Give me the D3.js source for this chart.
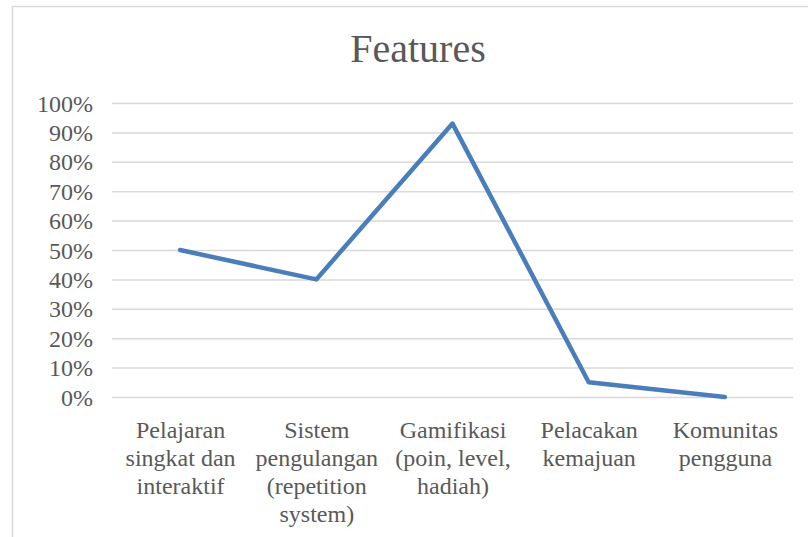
<!DOCTYPE html>
<html>
<head>
<meta charset="utf-8">
<script src="https://cdn.jsdelivr.net/npm/d3@7"></script>
<style>
  body { margin: 0; background: #fff; }
  .tick text { font-family: "Liberation Serif", serif; fill: #595959; }
</style>
</head>
<body>
<div class="chart"></div>
<script>
var svgWidth = 808;
var svgHeight = 537;

var title = "Features";
var categories = [
  "Pelajaran\nsingkat dan\ninteraktif",
  "Sistem\npengulangan\n(repetition\nsystem)",
  "Gamifikasi\n(poin, level,\nhadiah)",
  "Pelacakan\nkemajuan",
  "Komunitas\npengguna"
];
var values = [0.50, 0.40, 0.93, 0.05, 0.00];
var yTicks = [0, 0.1, 0.2, 0.3, 0.4, 0.5, 0.6, 0.7, 0.8, 0.9, 1.0];

var margin = { top: 103, right: 15, bottom: 140, left: 112 };
var width = svgWidth - margin.left - margin.right;
var height = 397 - margin.top;

var svg = d3.select(".chart")
  .append("svg")
  .attr("width", svgWidth)
  .attr("height", svgHeight);

// chart border
svg.append("rect")
  .attr("x", 12.5)
  .attr("y", 6.5)
  .attr("width", svgWidth)
  .attr("height", svgHeight)
  .attr("fill", "none")
  .attr("stroke", "#d9d9d9")
  .attr("stroke-width", 1.5);

svg.append("text")
  .attr("x", 418)
  .attr("y", 62)
  .attr("text-anchor", "middle")
  .attr("font-family", "Liberation Serif, serif")
  .attr("font-size", 40)
  .attr("fill", "#595959")
  .text(title);

var chartGroup = svg.append("g")
  .attr("transform", `translate(${margin.left}, ${margin.top})`);

var xScale = d3.scalePoint()
  .domain(categories)
  .range([0, width])
  .padding(0.5);

var yScale = d3.scaleLinear()
  .domain([0, 1])
  .range([height, 0]);

// gridlines + y labels
var leftAxis = d3.axisLeft(yScale)
  .tickValues(yTicks)
  .tickFormat(d3.format(".0%"))
  .tickSize(-width)
  .tickPadding(19);

var yAxis = chartGroup.append("g").call(leftAxis);
yAxis.select(".domain").remove();
yAxis.selectAll(".tick line").attr("stroke", "#d9d9d9").attr("stroke-width", 1.5);
yAxis.selectAll(".tick text").attr("font-size", 24).attr("dy", "0.34em");

// x labels
var bottomAxis = d3.axisBottom(xScale).tickSize(0).tickPadding(0);
var xAxis = chartGroup.append("g")
  .attr("transform", `translate(0, ${height})`)
  .call(bottomAxis);
xAxis.select(".domain").remove();
xAxis.selectAll(".tick text")
  .attr("font-size", 24)
  .attr("dy", null)
  .attr("y", null)
  .text(null)
  .each(function(d) {
    var t = d3.select(this);
    d.split("\n").forEach(function(line, i) {
      t.append("tspan")
        .attr("x", 0)
        .attr("y", 41 + i * 28)
        .text(line);
    });
  });

var line = d3.line()
  .x((d, i) => xScale(categories[i]))
  .y(d => yScale(d));

chartGroup.append("path")
  .datum(values)
  .attr("d", line)
  .attr("fill", "none")
  .attr("stroke", "#4a7ebb")
  .attr("stroke-width", 4.5)
  .attr("stroke-linecap", "round")
  .attr("stroke-linejoin", "round");
</script>
</body>
</html>
